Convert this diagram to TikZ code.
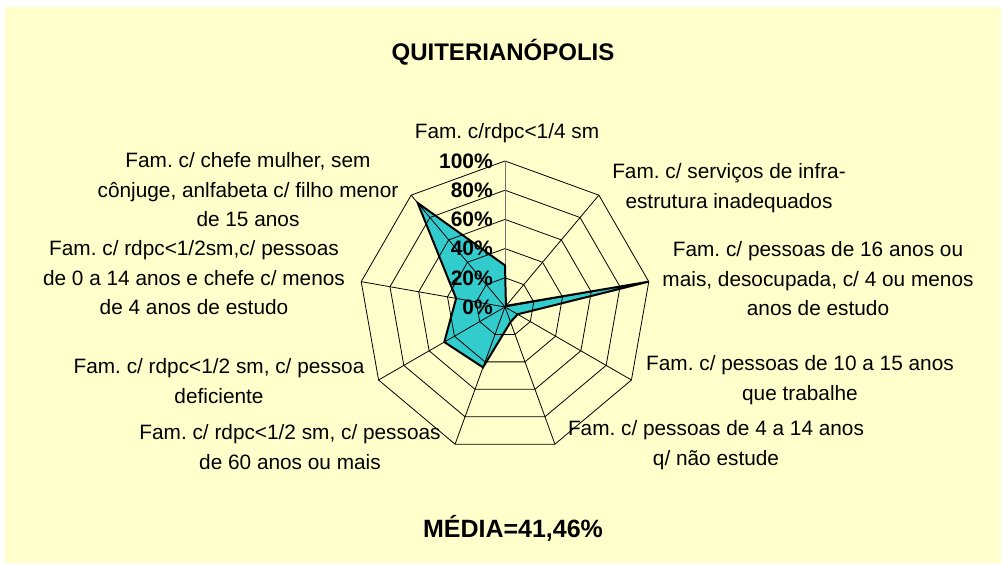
\documentclass[tikz,border=0pt]{standalone}
\usepackage{fontspec}
\setmainfont{Liberation Sans}
\definecolor{bgyellow}{HTML}{FFFFCC}
\definecolor{seriescyan}{HTML}{33CCCC}
\frenchspacing
\begin{document}
\begin{tikzpicture}[x=1pt,y=-1pt,
  gridline/.style={black, line width=0.8pt},
  axisline/.style={black!55, line width=0.9pt},
  seriesfill/.style={fill=seriescyan},
  seriesedge/.style={draw=black, line width=2pt, line join=miter},
  catlabel/.style={align=center, inner sep=0pt, font=\fontsize{20.8}{29.5}\selectfont},
  ticklabel/.style={anchor=east, inner sep=0pt, font=\bfseries\fontsize{21}{24}\selectfont},
  heading/.style={font=\bfseries\fontsize{24}{28}\selectfont, inner sep=0pt}]
\useasboundingbox (0,0) rectangle (1002,564);
\fill[white] (0,0) rectangle (1002,564);
\fill[bgyellow] (5,7) rectangle (1001,563);
\begin{scope}[shift={(505,307)}]
  % data series fill
  \fill[seriesfill] (-90:{146*0.285}) -- (-50:{146*0.01}) -- (-10:146) -- (30:{146*0.10})
     -- (70:{146*0.11}) -- (110:{146*0.44}) -- (150:{146*0.48}) -- (190:{146*0.34})
     -- (230:{146*0.93}) -- cycle;
  % rings
  \foreach \r in {29.2,58.4,87.6,116.8,146} {
    \draw[gridline] (-90:\r) \foreach \k in {1,...,8} { -- (-90+40*\k:\r) } -- cycle;
  }
  % spokes
  \foreach \k in {1,...,8} { \draw[gridline] (0,0) -- (-90+40*\k:146); }
  \draw[axisline] (0,0) -- (-90:146);
  % data series edge
  \draw[seriesedge] (-90:{146*0.285}) -- (-50:{146*0.01}) -- (-10:146) -- (30:{146*0.10})
     -- (70:{146*0.11}) -- (110:{146*0.44}) -- (150:{146*0.48}) -- (190:{146*0.34})
     -- (230:{146*0.93}) -- cycle;
\end{scope}
% value axis labels
\node[ticklabel] (t100) at (493,161) {100\%};
\node[ticklabel] (t80) at (493,190.2) {80\%};
\node[ticklabel] (t60) at (493,219.4) {60\%};
\node[ticklabel] (t40) at (493,248.6) {40\%};
\node[ticklabel] (t20) at (493,277.8) {20\%};
\node[ticklabel] (t0) at (493,307) {0\%};
% category labels
\node[catlabel] (c0) at (507,133) {Fam. c/rdpc<1/4 sm};
\node[catlabel] (c1) at (729,188) {Fam. c/ serviços de infra-\\estrutura inadequados};
\node[catlabel] (c2) at (818,279) {Fam. c/ pessoas de 16 anos ou\\mais, desocupada, c/ 4 ou menos\\anos de estudo};
\node[catlabel] (c3) at (800,380) {Fam. c/ pessoas de 10 a 15 anos\\que trabalhe};
\node[catlabel] (c4) at (716,445) {Fam. c/ pessoas de 4 a 14 anos\\q/ não estude};
\node[catlabel] (c5) at (290,447) {Fam. c/ rdpc<1/2 sm, c/ pessoas\\de 60 anos ou mais};
\node[catlabel] (c6) at (219,381) {Fam. c/ rdpc<1/2 sm, c/ pessoa\\deficiente};
\node[catlabel] (c7) at (194,278) {Fam. c/ rdpc<1/2sm,c/ pessoas\\de 0 a 14 anos e chefe c/ menos\\de 4 anos de estudo};
\node[catlabel] (c8) at (248,190) {Fam. c/ chefe mulher, sem\\cônjuge, anlfabeta c/ filho menor\\de 15 anos};
% title and mean
\node[heading] (title) at (503,52) {QUITERIANÓPOLIS};
\node[heading, font=\bfseries\fontsize{25}{29}\selectfont] (media) at (513,528) {MÉDIA=41,46\%};
\end{tikzpicture}
\end{document}
